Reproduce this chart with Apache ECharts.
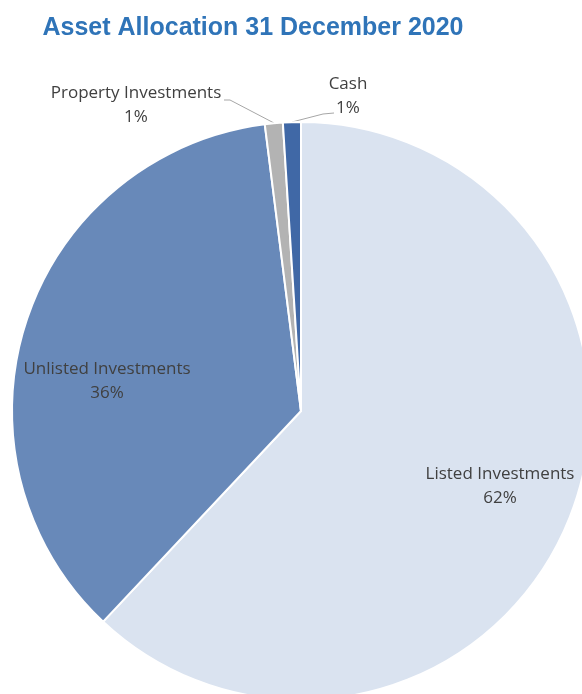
<!DOCTYPE html>
<html>
<head>
<meta charset="utf-8">
<script src="https://cdn.jsdelivr.net/npm/echarts@6/dist/echarts.min.js"></script>
<style>
html,body{margin:0;padding:0;background:#fff;}
#chart{width:582px;height:694px;}
</style>
</head>
<body>
<div id="chart"></div>
<script>
var categories = ['Listed Investments', 'Unlisted Investments', 'Property Investments', 'Cash'];
var values = [62, 36, 1, 1];
var colors = ['#dae3f0', '#6889b9', '#b3b3b3', '#4068a6'];

var labelPlaces = [
  {x: 500, y: 486},
  {x: 107, y: 381},
  {x: 136, y: 105},
  {x: 348, y: 96}
];
var leaderLines = [
  null,
  null,
  [[274, 123], [230, 100], [224, 100]],
  [[292, 122], [323, 114], [334, 113]]
];

var chart = echarts.init(document.getElementById('chart'));
chart.setOption({
  animation: false,
  title: {
    text: 'Asset Allocation 31 December 2020',
    left: 248,
    top: 11,
    textAlign: 'center',
    textStyle: {
      fontFamily: 'Liberation Sans',
      fontWeight: 'bold',
      fontSize: 25,
      color: '#2f74b8'
    }
  },
  series: [{
    type: 'pie',
    center: [301, 411],
    radius: 289,
    startAngle: 90,
    clockwise: true,
    avoidLabelOverlap: false,
    itemStyle: {borderColor: '#ffffff', borderWidth: 2},
    label: {
      show: true,
      position: 'outside',
      formatter: function (p) { return p.name + '\n' + Math.round(p.percent) + '%'; },
      fontFamily: 'Open Sans',
      fontSize: 17,
      lineHeight: 24,
      color: '#404040',
      align: 'center'
    },
    labelLine: {
      show: true,
      length: 20,
      length2: 20,
      lineStyle: {color: '#a6a6a6', width: 1}
    },
    labelLayout: function (params) {
      var p = labelPlaces[params.dataIndex];
      var out = {x: p.x, y: p.y, align: 'center', verticalAlign: 'middle'};
      if (leaderLines[params.dataIndex]) {
        out.labelLinePoints = leaderLines[params.dataIndex];
      }
      return out;
    },
    data: categories.map(function (c, i) {
      var item = {name: c, value: values[i], itemStyle: {color: colors[i]}};
      if (i < 2) {
        item.labelLine = {show: false};
      }
      return item;
    })
  }]
});
</script>
</body>
</html>
